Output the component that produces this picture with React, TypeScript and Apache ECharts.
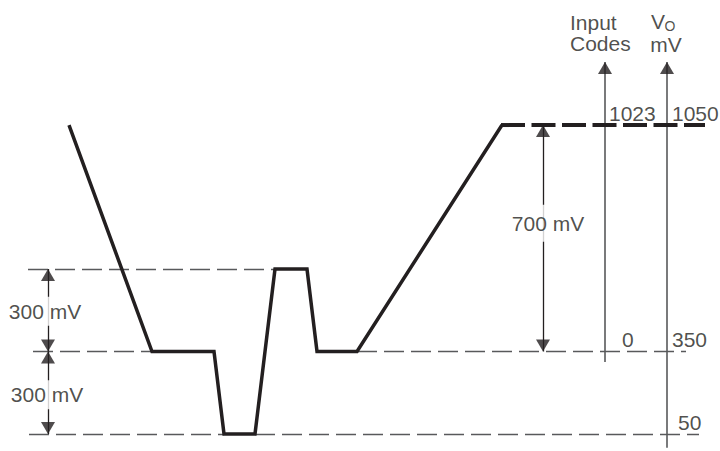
import React, { useEffect, useRef } from "react";
import * as echarts from "echarts";

// Schematic voltage levels (mV) and their relative vertical spacing in the drawing (diagram is not to scale)
const levelsMv = [50, 350, 650, 1050];
const levelsPos = [0, 1, 2, 3.745];

// Output waveform: time (arbitrary units) vs output voltage (mV)
const waveTime = [69, 152, 214, 224, 255, 275, 307, 317, 357, 502];
const waveMv = [1050, 350, 350, 50, 50, 650, 650, 350, 350, 1050];

// Held full-scale level (dashed continuation)
const holdTime = [501, 705];
const holdMv = [1050, 1050];

// Dashed reference levels
const refLevelMv = [650, 350, 350, 50, 50];
const refStartTime = [28, 33, 357, 29, 255];
const refEndTime = [275, 152, 686, 224, 699];

// Vertical scales (Input Codes, VO mV)
const scaleTime = [605, 667];
const scaleTopMv = [1225, 1225];
const scaleBottomMv = [312, 0];
const inputCodeTicks = ["1023", "0"];
const inputCodeTickMv = [1050, 350];
const voTicks = ["1050", "350", "50"];
const voTickMv = [1050, 350, 50];

// Dimension arrows
const dimTime = [48, 48, 543];
const dimFromMv = [650, 350, 1050];
const dimToMv = [350, 50, 350];
const dimLabels = ["300 mV", "300 mV", "700 mV"];
const dimLabelMv = [500, 200, 780];

const BLACK = "#231f20";
const GRAY = "#58595b";
const FONT = "Liberation Sans, Arial, sans-serif";
const PX_PER_LEVEL = 82.5;
const BASE_Y = 434;
const H = 451;

function lv(mv: number): number {
  const n = levelsMv.length;
  let i = 0;
  if (mv >= levelsMv[n - 1]) i = n - 2;
  else if (mv > levelsMv[0]) {
    while (mv > levelsMv[i + 1]) i++;
  }
  const f = (mv - levelsMv[i]) / (levelsMv[i + 1] - levelsMv[i]);
  return levelsPos[i] + f * (levelsPos[i + 1] - levelsPos[i]);
}

export default function App() {
  const ref = useRef<HTMLDivElement>(null);
  useEffect(() => {
    document.body.style.margin = "0";
    const chart = echarts.init(ref.current!, null, { renderer: "svg" });

    const waveData = waveTime.map((t, i) => [t, lv(waveMv[i])]);
    const holdData = holdTime.map((t, i) => [t, lv(holdMv[i])]);
    const refLines = refLevelMv.map((mv, i) => ({
      coords: [
        [refStartTime[i], lv(mv)],
        [refEndTime[i], lv(mv)],
      ],
    }));
    const scaleLines = scaleTime.map((t, i) => ({
      coords: [
        [t, lv(scaleBottomMv[i])],
        [t, lv(scaleTopMv[i])],
      ],
    }));
    const dimLines = dimTime.map((t, i) => ({
      coords: [
        [t, lv(dimFromMv[i])],
        [t, lv(dimToMv[i])],
      ],
    }));

    const upArrows: number[][] = [];
    const downArrows: number[][] = [];
    dimTime.forEach((t, i) => {
      const a = dimFromMv[i], b = dimToMv[i];
      const hi = Math.max(a, b), lo = Math.min(a, b);
      upArrows.push([t, lv(hi)]);
      downArrows.push([t, lv(lo)]);
    });
    const scaleArrows = scaleTime.map((t, i) => [t, lv(scaleTopMv[i])]);

    const txt = (
      text: string,
      t: number,
      mv: number,
      offset: number[],
      align: string,
      extra: any = {}
    ) => ({
      value: [t, lv(mv)],
      label: {
        show: true,
        position: "inside",
        formatter: text,
        align,
        verticalAlign: "middle",
        offset,
        color: BLACK,
        fontFamily: FONT,
        fontSize: 21,
        ...extra,
      },
    });

    const labels: any[] = [];
    labels.push(txt("Input\nCodes", scaleTime[0], scaleTopMv[0], [-35, -29.5], "left", { lineHeight: 21 }));
    labels.push(txt("V", scaleTime[1], scaleTopMv[1], [-9, -40.5], "center"));
    labels.push(txt("O", scaleTime[1], scaleTopMv[1], [3, -36.5], "center", { fontSize: 14 }));
    labels.push(txt("mV", scaleTime[1], scaleTopMv[1], [-1, -18], "center"));
    const codeOffsets = [[4, -12], [17, -12]];
    inputCodeTicks.forEach((s, i) => labels.push(txt(s, scaleTime[0], inputCodeTickMv[i], codeOffsets[i], "left")));
    const voOffsets = [[5, -12], [5, -12], [11, -12]];
    voTicks.forEach((s, i) => labels.push(txt(s, scaleTime[1], voTickMv[i], voOffsets[i], "left")));
    const dimOffsets = [[-3, 1], [-1, 2], [5, 1]];
    const dimPad = [[4, 2], [4, 2], [8, 2]];
    dimLabels.forEach((s, i) =>
      labels.push(
        txt(s, dimTime[i], dimLabelMv[i], dimOffsets[i], "center", {
          backgroundColor: "#ffffff",
          padding: dimPad[i],
        })
      )
    );

    chart.setOption({
      animation: false,
      backgroundColor: "#ffffff",
      grid: { left: 0, right: 0, top: 0, bottom: 0 },
      xAxis: { type: "value", min: 0, max: 720, show: false },
      yAxis: {
        type: "value",
        min: -(H - BASE_Y) / PX_PER_LEVEL,
        max: BASE_Y / PX_PER_LEVEL,
        show: false,
      },
      series: [
        {
          type: "lines",
          coordinateSystem: "cartesian2d",
          silent: true,
          z: 1,
          lineStyle: { color: GRAY, width: 1.3, type: [20, 7], opacity: 1, curveness: 0 },
          data: refLines,
        },
        {
          type: "lines",
          coordinateSystem: "cartesian2d",
          silent: true,
          z: 2,
          lineStyle: { color: GRAY, width: 1.6, type: "solid", opacity: 1, curveness: 0 },
          data: scaleLines,
        },
        {
          type: "lines",
          coordinateSystem: "cartesian2d",
          silent: true,
          z: 2,
          lineStyle: { color: BLACK, width: 1.3, type: "solid", opacity: 1, curveness: 0 },
          data: dimLines,
        },
        {
          type: "line",
          data: waveData,
          symbol: "none",
          silent: true,
          z: 5,
          lineStyle: { color: BLACK, width: 3.5, join: "miter", cap: "butt" },
        },
        {
          type: "line",
          data: holdData,
          symbol: "none",
          silent: true,
          z: 5,
          lineStyle: { color: BLACK, width: 4, type: [24, 6.5], cap: "butt" },
        },
        {
          type: "scatter",
          data: [...upArrows, ...scaleArrows],
          symbol: "triangle",
          symbolSize: [14, 12],
          symbolOffset: [0, "50%"],
          silent: true,
          z: 6,
          itemStyle: { color: BLACK },
        },
        {
          type: "scatter",
          data: downArrows,
          symbol: "triangle",
          symbolSize: [14, 12],
          symbolRotate: 180,
          symbolOffset: [0, "-50%"],
          silent: true,
          z: 6,
          itemStyle: { color: BLACK },
        },
        {
          type: "scatter",
          data: labels,
          symbolSize: 0,
          silent: true,
          z: 8,
          itemStyle: { color: "transparent" },
        },
      ],
    });
    return () => chart.dispose();
  }, []);
  return <div ref={ref} style={{ width: 720, height: 451 }} />;
}
